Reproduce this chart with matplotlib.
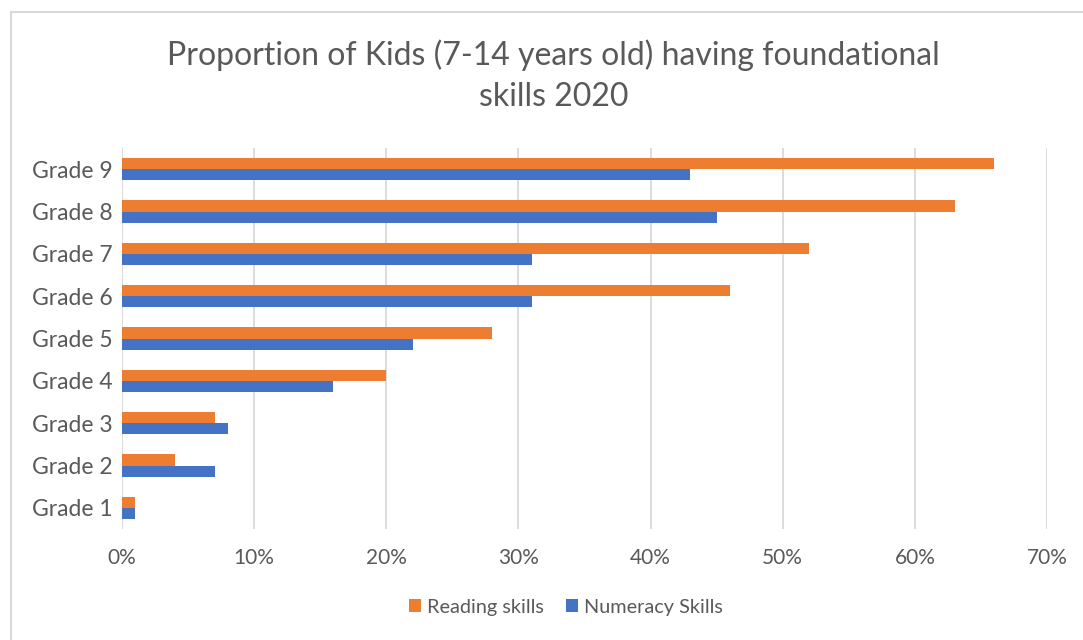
import matplotlib
matplotlib.use("Agg")
import matplotlib.pyplot as plt
from matplotlib.patches import Rectangle
from matplotlib.ticker import FuncFormatter
import numpy as np

plt.rcParams['font.family'] = ['Lato', 'DejaVu Sans']

grades = ["Grade 1", "Grade 2", "Grade 3", "Grade 4", "Grade 5",
          "Grade 6", "Grade 7", "Grade 8", "Grade 9"]
reading = [1, 4, 7, 20, 28, 46, 52, 63, 66]
numeracy = [1, 7, 8, 16, 22, 31, 31, 45, 43]
xticks = [0, 10, 20, 30, 40, 50, 60, 70]

orange = "#ED7D31"
blue = "#4472C4"
text_col = "#595959"

fig = plt.figure(figsize=(10.83, 6.4), dpi=100)
ax = fig.add_axes([122/1083, 1-529/640, (1047-122)/1083, (529-148)/640])

y = np.arange(len(grades))
h = 0.26
ax.barh(y + h/2, reading, height=h, color=orange, label="Reading skills", zorder=3)
ax.barh(y - h/2, numeracy, height=h, color=blue, label="Numeracy Skills", zorder=3)

ax.set_xlim(0, 70)
ax.set_ylim(-0.5, len(grades) - 0.5)
ax.set_xticks(xticks)
ax.xaxis.set_major_formatter(FuncFormatter(lambda v, p: f"{int(v)}%"))
ax.set_yticks(y)
ax.set_yticklabels(grades)
ax.grid(axis='x', color="#D9D9D9", linewidth=1.3, zorder=0)
for s in ax.spines.values():
    s.set_visible(False)
ax.tick_params(axis='both', length=0, colors=text_col)
ax.tick_params(axis='x', pad=14, labelsize=15)
ax.tick_params(axis='y', pad=6.5, labelsize=16.5)

fig.text(0.511, 1-55/640, "Proportion of Kids (7-14 years old) having foundational",
         ha='center', va='center', fontsize=23, color=text_col)
fig.text(0.511, 1-97/640, "skills 2020",
         ha='center', va='center', fontsize=23, color=text_col)

leg = fig.legend(loc='center', bbox_to_anchor=(566/1083, 1-607/640), ncol=2, frameon=False,
                 fontsize=14.3, handlelength=0.6, handleheight=0.6, handletextpad=0.3,
                 columnspacing=1.1)
for t in leg.get_texts():
    t.set_color(text_col)

fig.patches.append(Rectangle((11/1083, -0.1), 1.2, (640-12)/640 + 0.1,
                             transform=fig.transFigure, fill=False,
                             edgecolor="#D9D9D9", linewidth=1.5))

fig.savefig("out.png", dpi=100, facecolor="white")
